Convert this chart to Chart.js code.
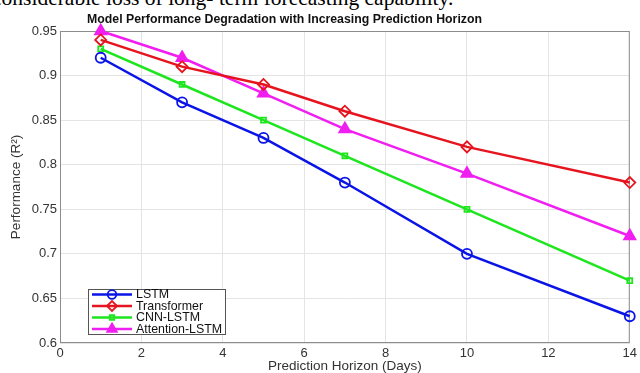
<!DOCTYPE html>
<html>
<head>
<meta charset="utf-8">
<script src="https://cdn.jsdelivr.net/npm/chart.js@4.4.1/dist/chart.umd.min.js"></script>
<style>
  html, body { margin: 0; padding: 0; background: #fff; overflow: hidden; }
  #wrap { position: relative; width: 640px; height: 373px; }
  #cap { position: absolute; left: -8px; top: -17.5px; font-family: "Liberation Serif", "Times New Roman", serif; font-size: 21.5px; color: #000; white-space: nowrap; line-height: 30px; }
  canvas { position: absolute; left: 0; top: 0; }
</style>
</head>
<body>
<div id="wrap">
  <div id="cap">considerable loss of long- term forecasting capability.</div>
  <canvas id="c" width="640" height="373"></canvas>
</div>
<script>
const horizons = [1, 3, 5, 7, 10, 14];
const lstm = [0.92, 0.87, 0.83, 0.78, 0.70, 0.63];
const transformer = [0.94, 0.91, 0.89, 0.86, 0.82, 0.78];
const cnnLstm = [0.93, 0.89, 0.85, 0.81, 0.75, 0.67];
const attentionLstm = [0.95, 0.92, 0.88, 0.84, 0.79, 0.72];
const seriesNames = ["LSTM", "Transformer", "CNN-LSTM", "Attention-LSTM"];
const xTicks = [0, 2, 4, 6, 8, 10, 12, 14];
const yTicks = [0.6, 0.65, 0.7, 0.75, 0.8, 0.85, 0.9, 0.95];
const yTickLabels = ["0.6", "0.65", "0.7", "0.75", "0.8", "0.85", "0.9", "0.95"];
const titleText = "Model Performance Degradation with Increasing Prediction Horizon";
const xTitle = "Prediction Horizon (Days)";
const yTitle = "Performance (R²)";

const pts = arr => horizons.map((h, i) => ({x: h, y: arr[i]}));
const styles = [
  {color: "#0a14e6", pointStyle: "circle", radius: 5, fill: "rgba(0,0,0,0)"},
  {color: "#e6141e", pointStyle: "rectRot", radius: 5.5, fill: "rgba(0,0,0,0)"},
  {color: "#1ee61e", pointStyle: "rect", radius: 3.5, fill: "rgba(0,0,0,0)"},
  {color: "#f01ef0", pointStyle: "triangle", radius: 6.5, fill: "#f01ef0"}
];
const allData = [lstm, transformer, cnnLstm, attentionLstm];
const datasets = allData.map((d, i) => ({
  label: seriesNames[i],
  data: pts(d),
  borderColor: styles[i].color,
  backgroundColor: styles[i].fill,
  borderWidth: 2.5,
  pointStyle: styles[i].pointStyle,
  pointRadius: styles[i].radius,
  pointBorderWidth: 1.8,
  pointBorderColor: styles[i].color,
  pointBackgroundColor: styles[i].fill,
  tension: 0,
  clip: false
}));

const FONT = "'Liberation Sans', Arial, Helvetica, sans-serif";

const custom = {
  id: "custom",
  beforeDatasetsDraw(chart) {
    const {ctx, chartArea: a} = chart;
    ctx.save();
    ctx.strokeStyle = "#8c8c8c";
    ctx.lineWidth = 1;
    ctx.strokeRect(a.left + 0.5, a.top + 0.5, a.right - a.left - 1, a.bottom - a.top - 1);
    ctx.restore();
  },
  afterDraw(chart) {
    const {ctx, chartArea: a} = chart;
    ctx.save();
    ctx.fillStyle = "#111";
    ctx.font = "bold 12.3px " + FONT;
    ctx.textAlign = "center";
    ctx.textBaseline = "middle";
    ctx.fillText(titleText, 284.5, 20);
    ctx.fillStyle = "#333";
    ctx.font = "13.5px " + FONT;
    ctx.fillText(xTitle, (a.left + a.right) / 2, 366);
    ctx.translate(16, (a.top + a.bottom) / 2);
    ctx.rotate(-Math.PI / 2);
    ctx.fillText(yTitle, 0, 0);
    ctx.restore();

    ctx.save();
    const bx = 88, by = 289, bw = 137, bh = 45;
    ctx.fillStyle = "#fff";
    ctx.fillRect(bx, by, bw, bh);
    ctx.strokeStyle = "#555";
    ctx.lineWidth = 1;
    ctx.strokeRect(bx + 0.5, by + 0.5, bw, bh);
    const rows = [294.5, 306, 317.5, 329];
    const legendRadius = [4.3, 5, 3.2, 5.5];
    chart.data.datasets.forEach((ds, i) => {
      const y = rows[i];
      ctx.strokeStyle = ds.borderColor;
      ctx.lineWidth = 2.5;
      ctx.beginPath();
      ctx.moveTo(92, y);
      ctx.lineTo(132, y);
      ctx.stroke();
      ctx.fillStyle = ds.pointBackgroundColor;
      ctx.lineWidth = 1.8;
      Chart.helpers.drawPoint(ctx, {pointStyle: ds.pointStyle, radius: legendRadius[i], rotation: 0, borderWidth: 1.8}, 112, y);
      ctx.fillStyle = "#111";
      ctx.font = "12.4px " + FONT;
      ctx.textAlign = "left";
      ctx.textBaseline = "middle";
      ctx.fillText(ds.label, 136, y + 0.5);
    });
    ctx.restore();
  }
};

new Chart(document.getElementById("c"), {
  type: "line",
  data: {datasets},
  options: {
    responsive: false,
    animation: false,
    devicePixelRatio: 1,
    layout: {padding: {left: 0, right: 5, top: 31, bottom: 0}},
    plugins: {legend: {display: false}, title: {display: false}, tooltip: {enabled: false}},
    scales: {
      x: {
        type: "linear", min: 0, max: 14,
        afterBuildTicks: s => { s.ticks = xTicks.map(v => ({value: v})); },
        afterFit: s => { s.height = 30; },
        grid: {color: "#e4e4e4", drawTicks: false},
        border: {display: false},
        ticks: {color: "#333", font: {family: FONT, size: 13}, padding: 3, maxRotation: 0,
                callback: v => String(v)}
      },
      y: {
        type: "linear", min: 0.6, max: 0.95,
        afterBuildTicks: s => { s.ticks = yTicks.map(v => ({value: v})); },
        afterFit: s => { s.width = 60; },
        grid: {color: "#e4e4e4", drawTicks: false},
        border: {display: false},
        ticks: {color: "#333", font: {family: FONT, size: 13}, padding: 3,
                callback: (v, i) => yTickLabels[i]}
      }
    }
  },
  plugins: [custom]
});
</script>
</body>
</html>
